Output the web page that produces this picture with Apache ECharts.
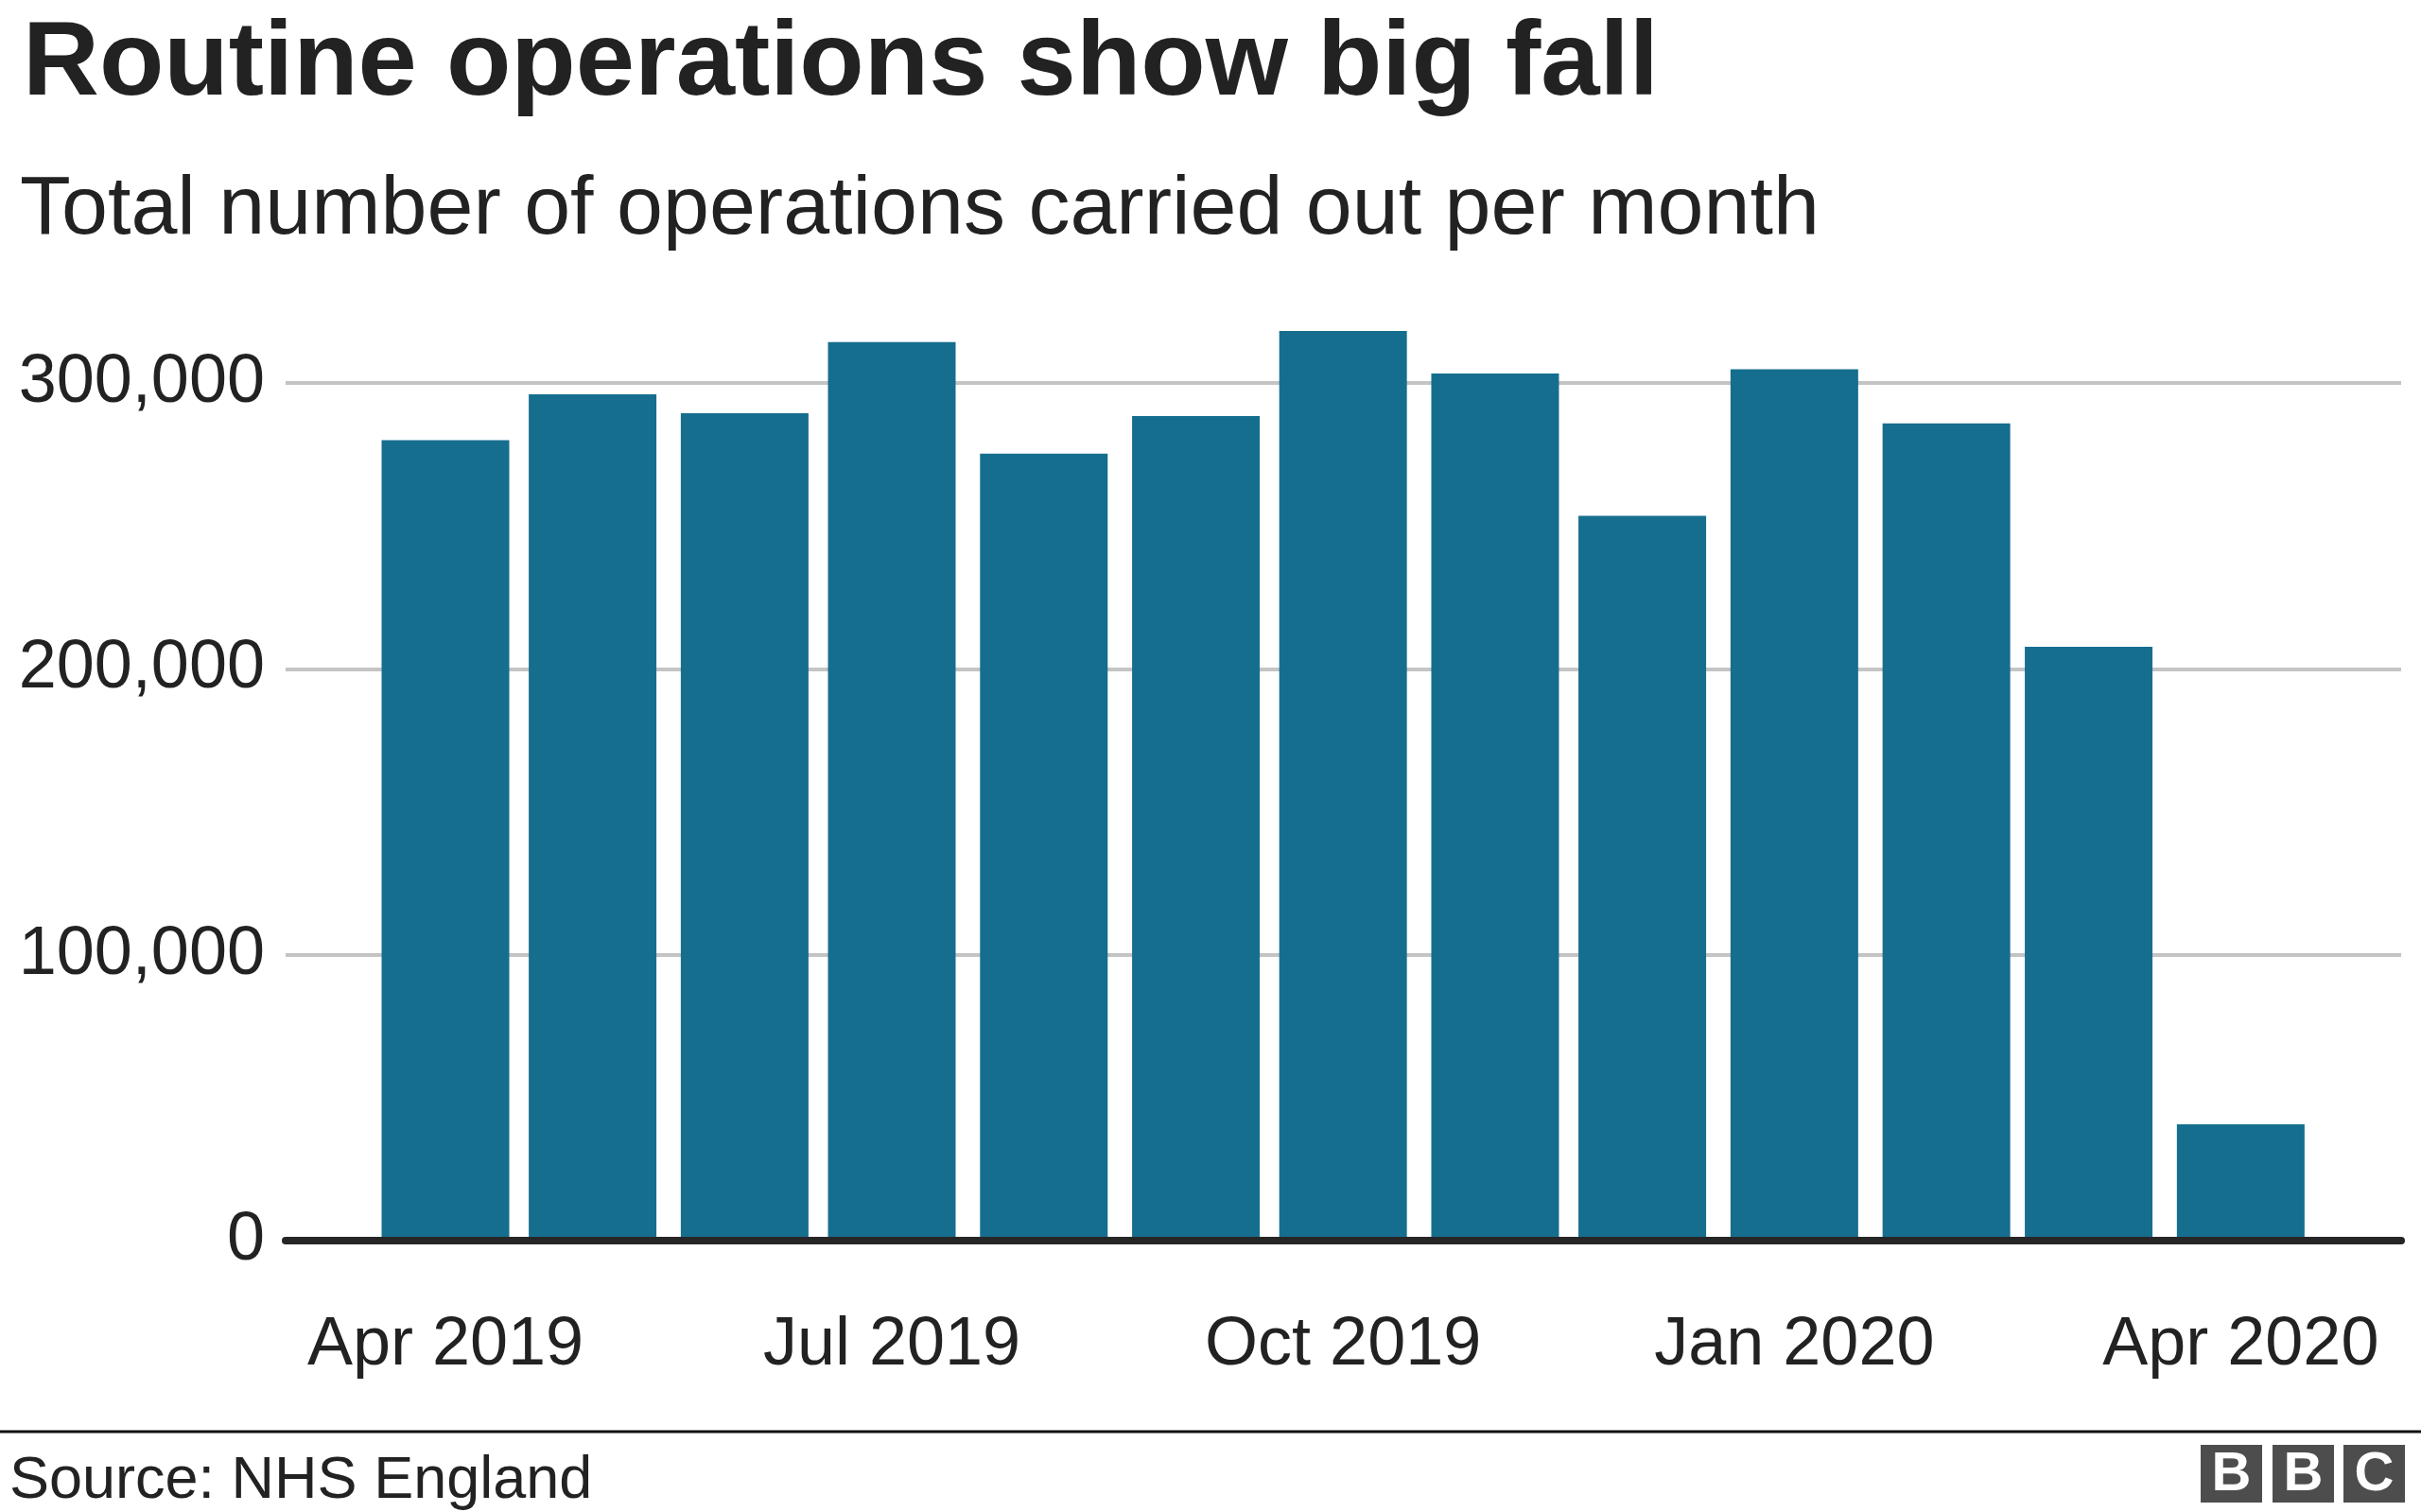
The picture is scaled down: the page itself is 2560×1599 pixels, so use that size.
<!DOCTYPE html>
<html>
<head>
<meta charset="utf-8">
<script src="https://cdn.jsdelivr.net/npm/echarts@6/dist/echarts.min.js"></script>
<style>
  html, body { margin: 0; padding: 0; background: #ffffff; }
  #chart { width: 2560px; height: 1599px; }
</style>
</head>
<body>
<div id="chart"></div>
<script>
// ---- Data ----
const months = ['2019-04-01','2019-05-01','2019-06-01','2019-07-01','2019-08-01','2019-09-01',
                '2019-10-01','2019-11-01','2019-12-01','2020-01-01','2020-02-01','2020-03-01','2020-04-01'];
const operations = [280000, 296000, 289400, 314300, 275300, 288400,
                    318200, 303300, 253500, 304800, 285900, 207700, 40650];
const tickDates = ['2019-04-01','2019-07-01','2019-10-01','2020-01-01','2020-04-01'];
const tickLabels = ['Apr 2019','Jul 2019','Oct 2019','Jan 2020','Apr 2020'];
const yTicks = [0, 100000, 200000, 300000];

const titleText = 'Routine operations show big fall';
const subtitleText = 'Total number of operations carried out per month';
const sourceText = 'Source: NHS England';

function parseDay(s) {
  const p = s.split('-').map(Number);
  return Date.UTC(p[0], p[1] - 1, p[2]);
}
const tickValues = tickDates.map(parseDay);
const seriesData = months.map((m, i) => [parseDay(m), operations[i]]);
const xMin = Date.UTC(2019, 1, 27, 10);
const xMax = Date.UTC(2020, 4, 3, 17);

const FONT = '"Liberation Sans", Arial, Helvetica, sans-serif';
const chart = echarts.init(document.getElementById('chart'), null, { renderer: 'canvas' });

const logoLetters = ['B', 'B', 'C'];
const logoX = [2327, 2403, 2478];
const graphics = [
  { type: 'text', left: 24, top: 13, style: { text: titleText, font: 'bold 112px ' + FONT, fill: '#222222' } },
  { type: 'text', left: 21, top: 179, style: { text: subtitleText, font: '88px ' + FONT, fill: '#222222' } },
  { type: 'rect', shape: { x: 0, y: 1512.5, width: 2560, height: 3 }, style: { fill: '#111111' } },
  { type: 'text', left: 10, top: 1535, style: { text: sourceText, font: '63px ' + FONT, fill: '#222222' } }
];
logoLetters.forEach((ch, i) => {
  graphics.push({ type: 'rect', shape: { x: logoX[i], y: 1528, width: 65, height: 61 }, style: { fill: '#4d4d4d' } });
  graphics.push({ type: 'text', x: logoX[i] + 32.5, y: 1560, style: { text: ch, font: 'bold 58px ' + FONT, fill: '#ffffff', align: 'center', verticalAlign: 'middle' } });
});

chart.setOption({
  animation: false,
  backgroundColor: '#ffffff',
  grid: { left: 302, right: 21, top: 405, bottom: 287, containLabel: false, outerBoundsMode: 'none' },
  xAxis: {
    type: 'value',
    min: xMin,
    max: xMax,
    z: 10,
    axisLine: { show: true, onZero: false, lineStyle: { color: '#262626', width: 8 } },
    axisTick: { show: false },
    splitLine: { show: false },
    axisLabel: {
      customValues: tickValues,
      margin: 75,
      fontSize: 72,
      fontFamily: FONT,
      color: '#222222',
      formatter: function (v) {
        const idx = tickValues.indexOf(Number(v));
        return idx >= 0 ? tickLabels[idx] : '';
      }
    }
  },
  yAxis: {
    type: 'value',
    min: yTicks[0],
    max: yTicks[yTicks.length - 1],
    interval: yTicks[1] - yTicks[0],
    axisLine: { show: false },
    axisTick: { show: false },
    splitLine: { show: true, lineStyle: { color: '#c4c4c4', width: 4 } },
    axisLabel: {
      margin: 22,
      fontSize: 72,
      fontFamily: FONT,
      color: '#222222',
      padding: [8, 0, 0, 0],
      formatter: function (v) { return Number(v).toLocaleString('en-GB'); }
    }
  },
  series: [{
    type: 'bar',
    data: seriesData,
    barWidth: 135,
    clip: false,
    itemStyle: { color: '#166e8f' }
  }],
  graphic: graphics
});
</script>
</body>
</html>
